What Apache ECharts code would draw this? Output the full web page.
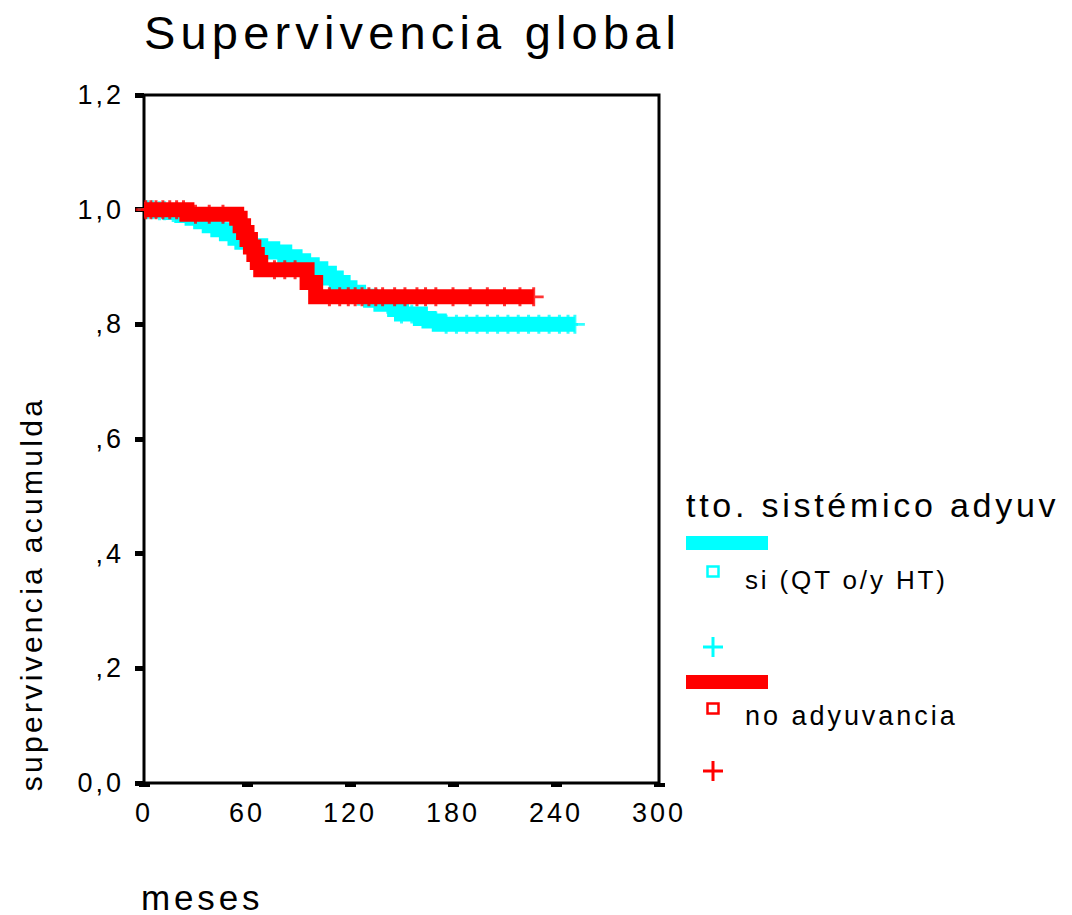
<!DOCTYPE html>
<html>
<head>
<meta charset="utf-8">
<script src="https://cdn.jsdelivr.net/npm/echarts@6/dist/echarts.min.js"></script>
<style>
  html, body { margin: 0; padding: 0; background: #fff; }
  #chart { width: 1072px; height: 915px; }
  #chart text { letter-spacing: 0.11em; }
</style>
</head>
<body>
<div id="chart"></div>
<script>
// ---- Data ----
const chartTitle = 'Supervivencia global';
const xAxisTitle = 'meses';
const yAxisTitle = 'supervivencia acumulda';
const legendTitle = 'tto. sistémico adyuv';
const groupNames = ['si (QT o/y HT)', 'no adyuvancia'];
const yTickLabels = ['0,0', ',2', ',4', ',6', ',8', '1,0', '1,2'];

// Group 1: si (QT o/y HT) — Kaplan-Meier step points (time in months, survival)
const siTimes = [0, 8, 15, 22, 28, 33, 38, 43, 48, 53, 57, 62, 68, 75, 82, 88, 93, 98, 103, 108, 112, 116, 120, 125, 132, 138, 146, 150, 161, 166, 172];
const siSurv  = [1.0, 0.998, 0.995, 0.99, 0.985, 0.979, 0.972, 0.965, 0.958, 0.95, 0.943, 0.937, 0.932, 0.926, 0.918, 0.911, 0.904, 0.897, 0.889, 0.881, 0.873, 0.864, 0.856, 0.849, 0.842, 0.835, 0.826, 0.818, 0.81, 0.806, 0.8];
const siLastTime = 251;
const siCensored = [2, 5, 9, 12, 17, 25, 35, 45, 55, 70, 85, 95, 105, 115, 125, 135, 142, 150, 156, 163, 170, 176, 182, 188, 194, 200, 206, 212, 218, 224, 230, 236, 242, 247, 251];

// Group 2: no adyuvancia
const noTimes = [0, 25, 54, 56, 58, 60, 62, 64, 66, 68, 95, 100];
const noSurv  = [1.0, 0.992, 0.985, 0.972, 0.96, 0.948, 0.935, 0.922, 0.908, 0.895, 0.873, 0.848];
const noLastTime = 227;
const noCensored = [1, 4, 7, 11, 15, 19, 23, 30, 38, 46, 76, 82, 88, 98, 108, 114, 119, 123, 127, 131, 135, 139, 146, 152, 159, 164, 170, 180, 190, 200, 210, 219, 227];

// ---- helpers ----
function stepData(times, surv, lastT) {
  const d = times.map((t, i) => [t, surv[i]]);
  d.push([lastT, surv[surv.length - 1]]);
  return d;
}
function survAt(times, surv, t) {
  let v = surv[0];
  for (let i = 0; i < times.length; i++) { if (times[i] <= t) v = surv[i]; }
  return v;
}
function censorData(cens, times, surv) {
  return cens.map(t => [t, survAt(times, surv, t)]);
}

const CYAN = '#00FFFF', RED = '#FF0000';
const FONT = 'Liberation Sans, Arial, sans-serif';
const plusPath = 'path://M-1.5,-10H1.5V-1.5H10V1.5H1.5V10H-1.5V1.5H-10V-1.5H-1.5Z';

function legendPlus(cx, cy, color) {
  return [
    { type: 'line', shape: { x1: cx - 10, y1: cy, x2: cx + 10, y2: cy }, style: { stroke: color, lineWidth: 3 } },
    { type: 'line', shape: { x1: cx, y1: cy - 10, x2: cx, y2: cy + 10 }, style: { stroke: color, lineWidth: 3 } }
  ];
}

const chart = echarts.init(document.getElementById('chart'), null, { renderer: 'svg' });

const option = {
  animation: false,
  backgroundColor: '#fff',
  title: {
    text: chartTitle,
    left: 139, top: 4,
    textStyle: { fontFamily: FONT, fontSize: 47, fontWeight: 'normal', color: '#000' }
  },
  grid: {
    left: 144, right: 413, top: 95, bottom: 132,
    show: true, borderColor: '#000', borderWidth: 3, backgroundColor: 'transparent'
  },
  xAxis: {
    type: 'value', min: 0, max: 300, interval: 60,
    offset: 5,
    axisLine: { show: false },
    axisTick: { show: true, length: 4, lineStyle: { color: '#000', width: 11 } },
    axisLabel: { margin: 11, color: '#000', fontFamily: FONT, fontSize: 27 },
    splitLine: { show: false }
  },
  yAxis: {
    type: 'value', min: 0, max: 1.2, interval: 0.2,
    axisLine: { show: false },
    axisTick: { show: true, length: 9, lineStyle: { color: '#000', width: 5 } },
    axisLabel: {
      margin: 20, color: '#000', fontFamily: FONT, fontSize: 27,
      formatter: v => yTickLabels[Math.round(v / 0.2)]
    },
    splitLine: { show: false }
  },
  series: [
    {
      name: groupNames[0], type: 'line', step: 'end', showSymbol: false,
      data: stepData(siTimes, siSurv, siLastTime),
      lineStyle: { color: CYAN, width: 15, cap: 'butt', join: 'miter' }, z: 2
    },
    {
      name: groupNames[0] + ' censor', type: 'scatter', symbol: plusPath, symbolSize: [20, 19],
      data: censorData(siCensored, siTimes, siSurv),
      itemStyle: { color: CYAN }, clip: false, z: 3
    },
    {
      name: groupNames[1], type: 'line', step: 'end', showSymbol: false,
      data: stepData(noTimes, noSurv, noLastTime),
      lineStyle: { color: RED, width: 15, cap: 'butt', join: 'miter' }, z: 4
    },
    {
      name: groupNames[1] + ' censor', type: 'scatter', symbol: plusPath, symbolSize: [20, 19],
      data: censorData(noCensored, noTimes, noSurv),
      itemStyle: { color: RED }, clip: false, z: 5
    }
  ],
  graphic: [
    { type: 'text', x: 141, y: 897,
      style: { text: xAxisTitle, fontFamily: FONT, fontSize: 35, fill: '#000', verticalAlign: 'middle' } },
    { type: 'text', x: 31, y: 594, rotation: Math.PI / 2,
      style: { text: yAxisTitle, fontFamily: FONT, fontSize: 30, fill: '#000', align: 'center', verticalAlign: 'middle' } },
    // legend
    { type: 'text', x: 686, y: 505,
      style: { text: legendTitle, fontFamily: FONT, fontSize: 34, fill: '#000', verticalAlign: 'middle' } },
    { type: 'rect', shape: { x: 686, y: 536, width: 82, height: 14 }, style: { fill: CYAN } },
    { type: 'rect', shape: { x: 707.5, y: 566.5, width: 11, height: 10 }, style: { fill: 'none', stroke: CYAN, lineWidth: 2.5 } },
    { type: 'text', x: 745, y: 580,
      style: { text: groupNames[0], fontFamily: FONT, fontSize: 26, fill: '#000', verticalAlign: 'middle' } },
    ...legendPlus(713, 647, CYAN),
    { type: 'rect', shape: { x: 686, y: 675, width: 82, height: 14 }, style: { fill: RED } },
    { type: 'rect', shape: { x: 707.5, y: 703.5, width: 11, height: 10 }, style: { fill: 'none', stroke: RED, lineWidth: 2.5 } },
    { type: 'text', x: 745, y: 716,
      style: { text: groupNames[1], fontFamily: FONT, fontSize: 27, fill: '#000', verticalAlign: 'middle' } },
    ...legendPlus(713, 771, RED)
  ]
};
chart.setOption(option);
</script>
</body>
</html>
